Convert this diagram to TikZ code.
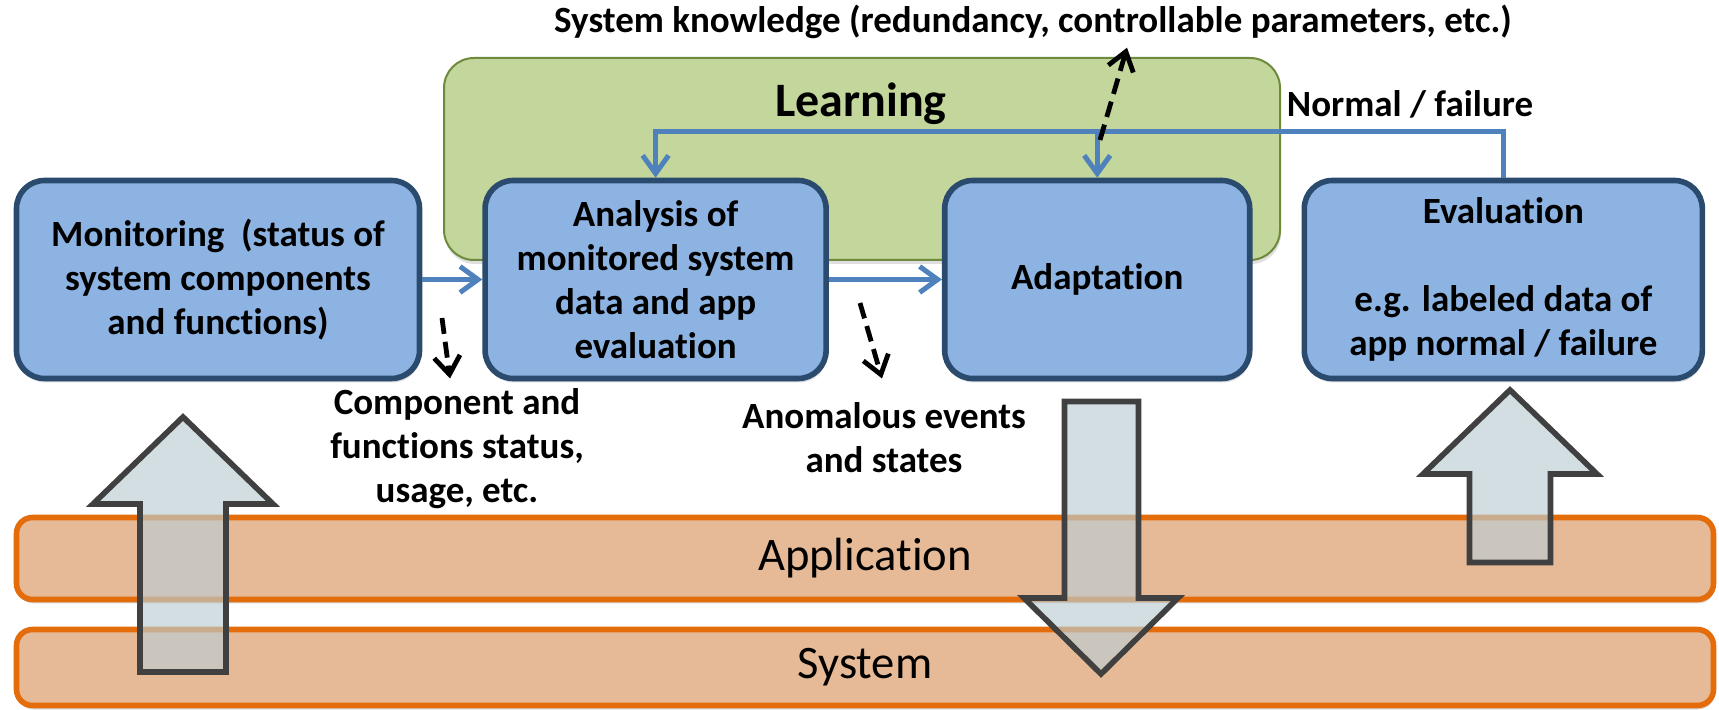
\documentclass[tikz,border=0pt]{standalone}
\usepackage{fontspec}
\setmainfont{Carlito}[Ligatures=CommonOff]
\usepackage{tikz}
\usetikzlibrary{positioning, arrows.meta, shadows}

\definecolor{boxblue}{HTML}{8DB3E2}
\definecolor{boxnavy}{HTML}{2A4A6E}
\definecolor{learngreen}{HTML}{C3D69B}
\definecolor{learnolive}{HTML}{6E8B3D}
\definecolor{layerfill}{HTML}{E6BA96}
\definecolor{layerline}{HTML}{E46C0A}
\definecolor{flowblue}{HTML}{4F81BD}
\definecolor{bigfill}{HTML}{BCCDD4}
\definecolor{bigline}{HTML}{404040}

\tikzstyle{flow} = [line width=2.5pt, draw=flowblue, -{Straight Barb[length=9pt,width=13pt]}]
\tikzstyle{hint} = [line width=2.4pt, dash pattern=on 8pt off 4pt, -{Straight Barb[length=9pt,width=13pt]}]
\tikzstyle{bigarrow} = [line width=2.8pt, draw=bigline, fill=bigfill, fill opacity=0.65, line join=miter]

\begin{document}
\begin{tikzpicture}[x=0.5pt, y=-0.5pt,
stagebox/.style={rectangle, rounded corners=14pt, draw=boxnavy, fill=boxblue, line width=2.8pt, inner sep=0pt, align=center, minimum height=99pt, font=\fontsize{18.5}{22}\selectfont\bfseries, drop shadow={shadow xshift=0.5pt, shadow yshift=-2pt, opacity=0.3}},
layer/.style={rectangle, rounded corners=8pt, draw=layerline, fill=layerfill, line width=2.8pt, minimum width=848.5pt, font=\fontsize{23.3}{28}\selectfont, drop shadow={shadow xshift=0.5pt, shadow yshift=-2pt, opacity=0.3}},
note/.style={align=center, inner sep=0pt, font=\fontsize{18.5}{22}\selectfont\bfseries},
]
\useasboundingbox (0,0) rectangle (1719,710);

%Layers
\node[layer, minimum height=41pt] (application) at (865,558.5) {Application};
\node[layer, minimum height=38pt] (system)      at (865,667.5) {System};

%Learning area
\node[rectangle, rounded corners=15pt, draw=learnolive, fill=learngreen, line width=1pt, minimum width=418pt, minimum height=101pt, drop shadow={shadow xshift=0.5pt, shadow yshift=-2pt, opacity=0.25}] (learning) at (862,159) {};
\node[anchor=base, font=\fontsize{24}{28}\selectfont\bfseries] (learningtitle) at (861,117) {Learning};

%Nodes
\node[stagebox, minimum width=201.5pt]                          (monitoring) at (218,279.5) {Monitoring\ \ (status of\\system components\\and functions)};
\node[stagebox, minimum width=170.5pt, right=30pt of monitoring] (analysis)   {Analysis of\\monitored system\\data and app\\evaluation};
\node[stagebox, minimum width=152.5pt, right=56.5pt of analysis] (adaptation) {Adaptation};
\node[stagebox, minimum width=199pt, right=24.5pt of adaptation] (evaluation) {Evaluation\\[22pt]e.g. labeled data of\\app normal / failure};

%Labels
\node[note, anchor=base] (knowledge)  at (1033,33)  {System knowledge (redundancy, controllable parameters, etc.)};
\node[note, anchor=base] (normalfail) at (1410,117) {Normal / failure};
\node[note]              (compstatus) at (457,449)  {Component and\\functions status,\\usage, etc.};
\node[note]              (anomalous)  at (884,438)  {Anomalous events\\and states};

%Lines
\coordinate (loop) at (0,132);
\draw[flow] (monitoring) -- (analysis);
\draw[flow] (analysis) -- (adaptation);
\draw[flow] (evaluation.north) |- (loop -| analysis.north) -- (analysis.north);
\draw[flow] (loop -| adaptation.north) -- (adaptation.north);

\coordinate (statusfrom) at (442,318);
\coordinate (anomalyfrom) at (860,303);
\coordinate (knowfrom) at (1100,140);
\draw[hint] (statusfrom) -- ([xshift=-3.5pt,yshift=5pt]compstatus.north);
\draw[hint] (anomalyfrom) -- ([xshift=-1pt,yshift=12pt]anomalous.north);
\draw[hint] (knowfrom) -- ([xshift=47pt,yshift=-4pt]knowledge.south);

%Big arrows
\draw[bigarrow] (140,672) -- (140,504) -- (93,504) -- (183,417) -- (273,504) -- (226,504) -- (226,672) -- cycle;
\draw[bigarrow] (1064.5,401.5) -- (1138.5,401.5) -- (1138.5,598) -- (1178,598) -- (1101,674) -- (1024,598) -- (1064.5,598) -- cycle;
\draw[bigarrow] (1469.5,562.5) -- (1469.5,474) -- (1423,474) -- (1510,390) -- (1597,474) -- (1550.5,474) -- (1550.5,562.5) -- cycle;

\end{tikzpicture}
\end{document}
